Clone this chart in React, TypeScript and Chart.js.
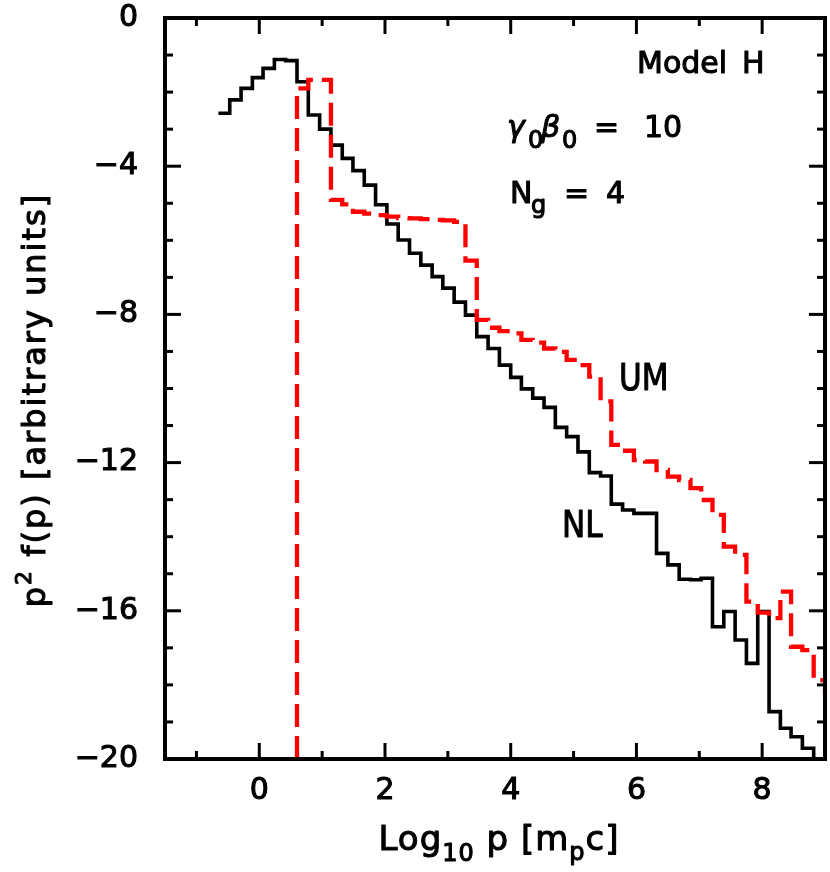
import React, { useEffect, useRef } from 'react';
import { Chart, registerables } from 'chart.js';

Chart.register(...registerables);

// Histogram bin edges in log10 p (shared by both spectra)
const binEdges = [
  -0.65, -0.47, -0.29, -0.11, 0.06, 0.24, 0.42, 0.6, 0.78, 0.96,
  1.14, 1.32, 1.49, 1.67, 1.85, 2.03, 2.21, 2.39, 2.57, 2.75,
  2.92, 3.1, 3.28, 3.46, 3.64, 3.82, 4.0, 4.17, 4.35, 4.53,
  4.71, 4.89, 5.07, 5.25, 5.43, 5.6, 5.78, 5.96, 6.14, 6.32,
  6.5, 6.68, 6.86, 7.03, 7.21, 7.39, 7.57, 7.75, 7.93, 8.11,
  8.29, 8.46, 8.64, 8.82, 9.0, 9.18,
];

// NL spectrum: one value per bin, first bin starts at binEdges[0]
const nlValues = [
  -2.57, -2.21, -1.9, -1.61, -1.36, -1.12, -1.15, -1.72, -2.62, -3.0,
  -3.43, -3.79, -4.12, -4.51, -5.04, -5.56, -5.99, -6.35, -6.67, -6.98,
  -7.29, -7.67, -8.02, -8.6, -8.92, -9.37, -9.7, -10.01, -10.26, -10.51,
  -11.05, -11.3, -11.71, -12.27, -12.36, -13.12, -13.28, -13.37, -13.37, -14.45,
  -14.76, -15.15, -15.16, -15.12, -16.43, -16.02, -16.79, -17.42, -16.02, -18.72,
  -19.17, -19.4, -19.71, -20.4,
];

// UM spectrum: starts with a vertical rise from the floor at umStartEdge
const umStartEdge = 0.6;
const umFloor = -20;
const umValues = [
  -1.9, -1.67, -1.67, -4.91, -5.03, -5.23, -5.28, -5.32, -5.36, -5.4,
  -5.41, -5.43, -5.45, -5.46, -5.5, -6.55, -8.15, -8.36, -8.45, -8.51,
  -8.69, -8.76, -8.92, -9.01, -9.23, -9.37, -9.68, -10.35, -11.52, -11.68,
  -11.93, -11.97, -12.2, -12.38, -12.47, -12.69, -13.01, -13.41, -14.27, -14.49,
  -15.75, -16.05, -16.2, -15.48, -16.97, -17.06, -17.87, -18.23,
];

const xTickValues = [0, 2, 4, 6, 8];
const xTickLabels = ['0', '2', '4', '6', '8'];
const yTickValues = [0, -4, -8, -12, -16, -20];
const yTickLabels = ['0', '\u22124', '\u22128', '\u221212', '\u221216', '\u221220'];

const FONT = '"DejaVu Sans", "Liberation Sans", sans-serif';
const TEXT_STROKE = 1.1;

function histPoints(values: number[], startIndex: number) {
  const pts = values.map((v, k) => ({ x: binEdges[startIndex + k], y: v }));
  pts.push({ x: binEdges[startIndex + values.length], y: values[values.length - 1] });
  return pts;
}

type Run = { t: string; size: number; dy?: number; italic?: boolean };

function paintText(ctx: CanvasRenderingContext2D, t: string, x: number, y: number) {
  ctx.lineWidth = TEXT_STROKE;
  ctx.lineJoin = 'round';
  ctx.strokeText(t, x, y);
  ctx.fillText(t, x, y);
}

function drawRuns(ctx: CanvasRenderingContext2D, runs: Run[], x: number, y: number, align: 'left' | 'center', spacing = 0) {
  const widths: number[] = [];
  let total = 0;
  for (const r of runs) {
    ctx.font = `${r.italic ? 'italic ' : ''}${r.size}px ${FONT}`;
    (ctx as any).letterSpacing = spacing + 'px';
    const w = ctx.measureText(r.t).width;
    widths.push(w);
    total += w;
  }
  let cx = align === 'center' ? x - total / 2 : x;
  runs.forEach((r, i) => {
    ctx.font = `${r.italic ? 'italic ' : ''}${r.size}px ${FONT}`;
    (ctx as any).letterSpacing = spacing + 'px';
    paintText(ctx, r.t, cx, y + (r.dy || 0));
    cx += widths[i];
  });
  (ctx as any).letterSpacing = '0px';
}

function drawCondensed(ctx: CanvasRenderingContext2D, t: string, x: number, y: number, size: number, sx: number) {
  ctx.save();
  ctx.translate(x, y);
  ctx.scale(sx, 1);
  ctx.font = `${size}px ${FONT}`;
  paintText(ctx, t, 0, 0);
  ctx.restore();
}

function put(ctx: CanvasRenderingContext2D, t: string, x: number, y: number, size: number, italic = false) {
  ctx.font = `${italic ? 'italic ' : ''}${size}px ${FONT}`;
  paintText(ctx, t, x, y);
}

const framePlugin = {
  id: 'frameTicksText',
  afterDraw(chart: any) {
    const { ctx, chartArea: a, scales } = chart;
    const xs = scales.x;
    const ys = scales.y;
    ctx.save();
    ctx.strokeStyle = '#000';
    ctx.fillStyle = '#000';
    ctx.lineCap = 'butt';
    ctx.lineWidth = 3;
    const seg = (x1: number, y1: number, x2: number, y2: number) => {
      ctx.beginPath();
      ctx.moveTo(x1, y1);
      ctx.lineTo(x2, y2);
      ctx.stroke();
    };
    // inward ticks on all four sides
    for (let v = Math.ceil(xs.min); v < xs.max; v++) {
      const px = xs.getPixelForValue(v);
      const len = v % 2 === 0 ? 16 : 8;
      seg(px, a.bottom, px, a.bottom - len);
      seg(px, a.top, px, a.top + len);
    }
    for (let v = Math.ceil(ys.min) + 1; v < ys.max; v++) {
      const py = ys.getPixelForValue(v);
      const len = v % 4 === 0 ? 16 : 8;
      seg(a.left, py, a.left + len, py);
      seg(a.right, py, a.right - len, py);
    }
    // frame
    ctx.lineWidth = 4;
    ctx.lineJoin = 'miter';
    ctx.strokeRect(a.left, a.top, a.right - a.left, a.bottom - a.top);

    ctx.textAlign = 'left';
    ctx.textBaseline = 'alphabetic';

    // annotations
    put(ctx, 'Model', 637, 73, 30);
    put(ctx, 'H', 742, 73, 30);

    put(ctx, '\u03b3', 507, 137, 30, true);
    put(ctx, '0', 528, 148, 24);
    put(ctx, '\u03b2', 541, 137, 30, true);
    put(ctx, '0', 562, 148, 24);
    put(ctx, '=', 594, 137, 30);
    put(ctx, '10', 644, 137, 30);

    put(ctx, 'N', 510, 203, 30);
    put(ctx, 'g', 531, 213, 24);
    put(ctx, '=', 564, 203, 30);
    put(ctx, '4', 606, 203, 30);

    drawCondensed(ctx, 'UM', 619, 390, 37, 0.84);
    drawCondensed(ctx, 'NL', 562, 537, 37, 0.84);

    // x axis title
    drawRuns(
      ctx,
      [
        { t: 'Log', size: 34 },
        { t: '10', size: 24, dy: 11 },
        { t: ' p [m', size: 34 },
        { t: 'p', size: 24, dy: 10 },
        { t: 'c]', size: 34 },
      ],
      499,
      850,
      'center',
      1
    );

    // y axis title (rotated)
    ctx.save();
    ctx.translate(45, 400);
    ctx.rotate(-Math.PI / 2);
    drawRuns(
      ctx,
      [
        { t: 'p', size: 32 },
        { t: '2', size: 22, dy: -14 },
        { t: ' f(p) [arbitrary units]', size: 32 },
      ],
      0,
      0,
      'center',
      2
    );
    ctx.restore();

    ctx.restore();
  },
};

export default function App() {
  const ref = useRef<HTMLCanvasElement>(null);

  useEffect(() => {
    const canvas = ref.current;
    if (!canvas) return;
    const umStart = binEdges.indexOf(umStartEdge);
    const umPoints = [{ x: umStartEdge, y: umFloor }, ...histPoints(umValues, umStart)];
    const nlPoints = histPoints(nlValues, 0);

    const tickFont = { family: FONT, size: 30 };

    const chart = new Chart(canvas, {
      type: 'line',
      data: {
        datasets: [
          {
            label: 'UM',
            data: umPoints,
            borderColor: '#ff0000',
            borderWidth: 4.3,
            borderDash: [23, 9],
            stepped: true,
            pointRadius: 0,
            fill: false,
            borderJoinStyle: 'miter',
          },
          {
            label: 'NL',
            data: nlPoints,
            borderColor: '#000000',
            borderWidth: 3.6,
            stepped: true,
            pointRadius: 0,
            fill: false,
            borderJoinStyle: 'miter',
          },
        ],
      },
      options: {
        responsive: false,
        animation: false,
        events: [],
        layout: { padding: { top: 18, right: 5, left: 0, bottom: 0 } },
        plugins: {
          legend: { display: false },
          tooltip: { enabled: false },
        },
        scales: {
          x: {
            type: 'linear',
            min: -1.5,
            max: 9,
            grid: { display: false, drawTicks: false },
            border: { display: false },
            afterBuildTicks: (scale: any) => {
              scale.ticks = xTickValues.map((v) => ({ value: v }));
            },
            afterFit: (scale: any) => {
              scale.height = 113;
              scale.paddingLeft = 0;
              scale.paddingRight = 0;
            },
            ticks: {
              autoSkip: false,
              maxRotation: 0,
              padding: 14,
              color: '#000',
              textStrokeColor: '#000',
              textStrokeWidth: TEXT_STROKE,
              font: tickFont,
              callback: (value: any) => {
                const i = xTickValues.indexOf(Number(value));
                return i >= 0 ? xTickLabels[i] : '';
              },
            },
          },
          y: {
            type: 'linear',
            min: -20,
            max: 0,
            grid: { display: false, drawTicks: false },
            border: { display: false },
            afterBuildTicks: (scale: any) => {
              scale.ticks = yTickValues.map((v) => ({ value: v }));
            },
            afterFit: (scale: any) => {
              scale.width = 165;
              scale.paddingTop = 0;
              scale.paddingBottom = 0;
            },
            ticks: {
              autoSkip: false,
              padding: 27,
              color: '#000',
              textStrokeColor: '#000',
              textStrokeWidth: TEXT_STROKE,
              font: tickFont,
              callback: (value: any) => {
                const i = yTickValues.indexOf(Number(value));
                return i >= 0 ? yTickLabels[i] : '';
              },
            },
          },
        },
      },
      plugins: [framePlugin],
    } as any);

    return () => chart.destroy();
  }, []);

  return (
    <div style={{ position: 'fixed', left: 0, top: 0, width: 830, height: 872, background: '#ffffff' }}>
      <canvas ref={ref} width={830} height={872} style={{ display: 'block', width: 830, height: 872 }} />
    </div>
  );
}
